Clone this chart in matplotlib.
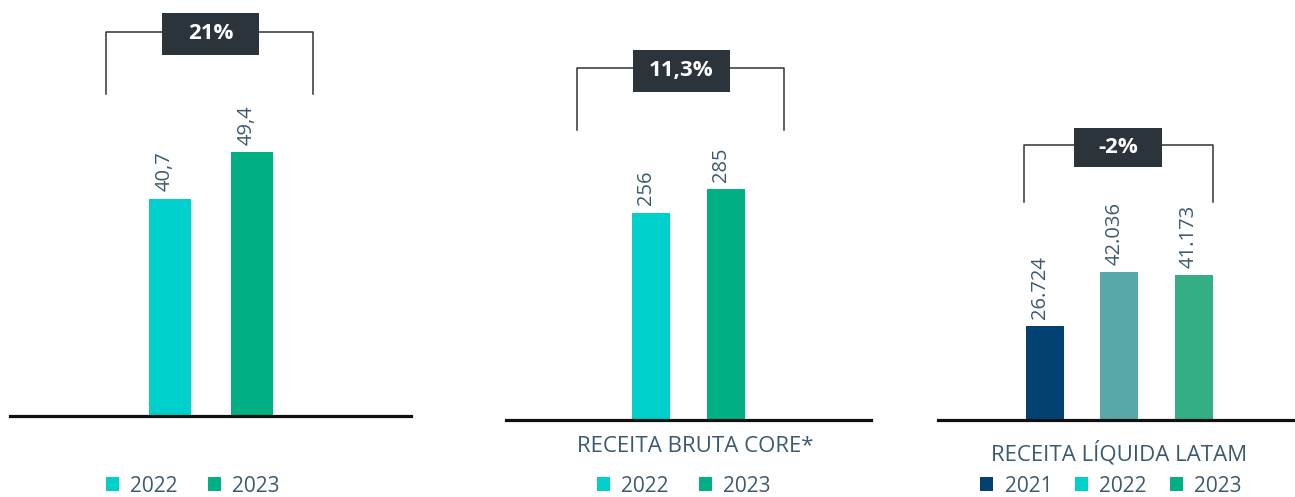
import matplotlib
matplotlib.use("Agg")
import matplotlib.pyplot as plt
import matplotlib.transforms as mtransforms
from matplotlib.patches import Rectangle, Patch

plt.rcParams['font.family'] = ['Open Sans', 'DejaVu Sans']

# data
years_1 = ["2022", "2023"]
values_1 = [40.7, 49.4]
growth_1 = "21%"

years_2 = ["2022", "2023"]
values_2 = [256, 285]
growth_2 = "11,3%"
title_2 = "RECEITA BRUTA CORE*"

years_3 = ["2021", "2022", "2023"]
values_3 = [26724, 42036, 41173]
growth_3 = "-2%"
title_3 = "RECEITA LÍQUIDA LATAM"

bar_colors_1 = ["#00d0cb", "#00b084"]
bar_colors_3 = ["#024272", "#58a7a9", "#34ae84"]
legend_colors = {"2021": "#024272", "2022": "#00d0c8", "2023": "#00b084"}

txt_color = "#3c5a6e"
box_color = "#2b333b"
W, H = 1295, 497


def fmt_dec(v):
    return f"{v:.1f}".replace(".", ",")


def fmt_int(v):
    return f"{v:,}".replace(",", ".")


def make_panel(left, right, base, xlim, ylim_top):
    ax = fig.add_axes([left / W, (H - base) / H, (right - left) / W, base / H])
    ax.set_xlim(*xlim)
    ax.set_ylim(0, ylim_top)
    for s in ["top", "right", "left"]:
        ax.spines[s].set_visible(False)
    ax.spines["bottom"].set_linewidth(2.3)
    ax.spines["bottom"].set_color("#111111")
    ax.spines["bottom"].set_zorder(5)
    ax.set_xticks([])
    ax.set_yticks([])
    ax.patch.set_alpha(0)
    return ax


def draw_bars(ax, vals, colors, labels):
    xs = range(len(vals))
    ax.bar(xs, vals, width=0.51, color=colors, zorder=2)
    off = ax.get_ylim()[1] * 0.018
    for x, v, lab in zip(xs, vals, labels):
        ax.text(x, v + off, lab, rotation=90, rotation_mode="anchor",
                ha="left", va="baseline", fontsize=14.5, color=txt_color)


def draw_bracket(ax, x0, x1, y_top, y_bot, box, text):
    tr = mtransforms.blended_transform_factory(ax.transData, ax.transAxes)
    ax.plot([x0, x0, x1, x1], [y_bot, y_top, y_top, y_bot], color="#333333",
            lw=1.1, transform=tr, clip_on=False, zorder=3)
    bx0, bx1, by0, by1 = box
    ax.add_patch(Rectangle((bx0, by0), bx1 - bx0, by1 - by0, transform=tr,
                           facecolor=box_color, edgecolor="none", zorder=4,
                           clip_on=False))
    ax.text((bx0 + bx1) / 2, (by0 + by1) / 2, text, transform=tr, ha="center",
            va="center", color="white", fontsize=16, fontweight="bold", zorder=5)


def draw_legend(years, cx, spacing):
    handles = [Patch(facecolor=legend_colors[y], edgecolor="none") for y in years]
    leg = fig.legend(handles, years, loc="center", bbox_to_anchor=(cx / W, 1 - 486 / H),
                     ncol=len(years), frameon=False, fontsize=15,
                     handlelength=0.62, handleheight=0.62, handletextpad=0.55,
                     columnspacing=spacing, borderpad=0, borderaxespad=0)
    for t in leg.get_texts():
        t.set_color(txt_color)


fig = plt.figure(figsize=(W / 100, H / 100), dpi=100)

# panel 1
ax1 = make_panel(10, 411, 416, (-1.95, 2.94), 77.9)
draw_bars(ax1, values_1, bar_colors_1, [fmt_dec(v) for v in values_1])
draw_bracket(ax1, -0.78, 1.74, 0.923, 0.774, (-0.098, 1.085, 0.868, 0.969), growth_1)
draw_legend(years_1, 193, 1.45)

# panel 2
ax2 = make_panel(506, 871, 420, (-1.93, 2.93), 519)
draw_bars(ax2, values_2, bar_colors_1, [str(v) for v in values_2])
draw_bracket(ax2, -0.99, 1.77, 0.838, 0.690, (-0.24, 1.053, 0.781, 0.881), growth_2)
ax2.text(0.587, -0.064, title_2, transform=mtransforms.blended_transform_factory(ax2.transData, ax2.transAxes),
         ha="center", va="center", fontsize=16, color=txt_color)
draw_legend(years_2, 684, 1.45)

# panel 3
ax3 = make_panel(938, 1295, 420, (-1.436, 3.356), 119600)
draw_bars(ax3, values_3, bar_colors_3, [fmt_int(v) for v in values_3])
draw_bracket(ax3, -0.28, 2.25, 0.655, 0.519, (0.389, 1.570, 0.602, 0.695), growth_3)
ax3.text(1.0, -0.079, title_3, transform=mtransforms.blended_transform_factory(ax3.transData, ax3.transAxes),
         ha="center", va="center", fontsize=16, color=txt_color)
draw_legend(years_3, 1111, 1.1)

fig.savefig("out.png", dpi=100, facecolor="white")
